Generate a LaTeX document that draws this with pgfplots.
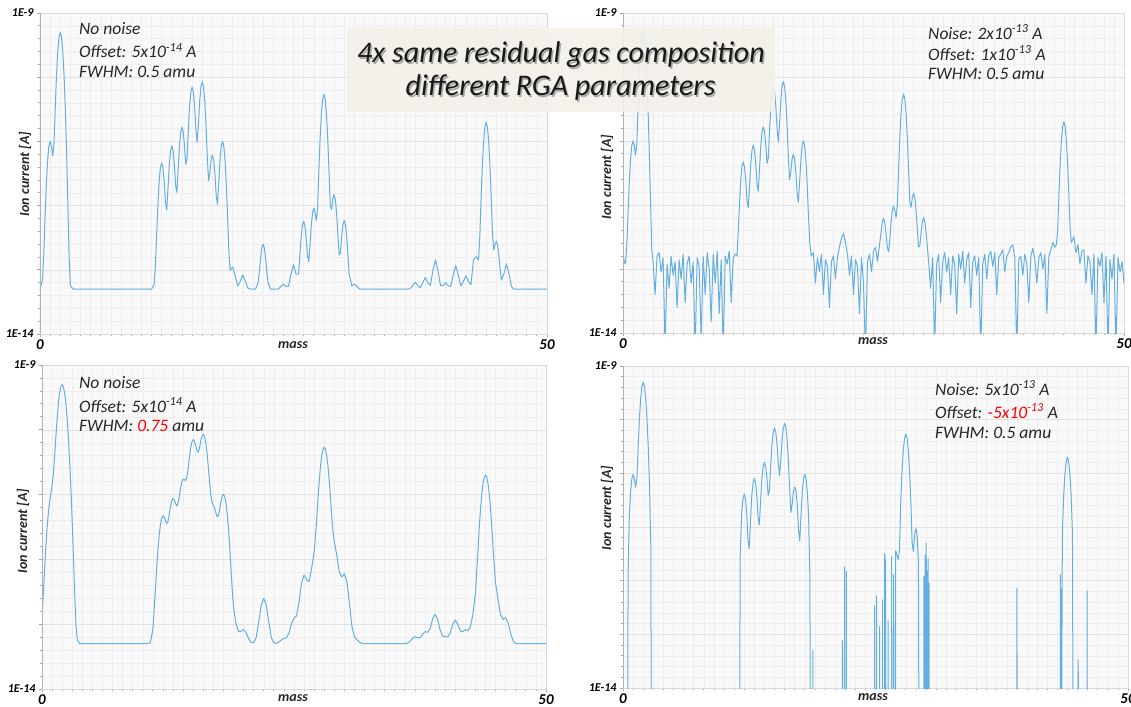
\documentclass[border=0pt]{standalone}
\usepackage{pgfplots}
\pgfplotsset{compat=1.18}
\usepackage{fontspec}
\setmainfont{Carlito}
\definecolor{curve}{RGB}{100,175,225}
\definecolor{gridmaj}{RGB}{226,226,226}
\definecolor{gridmin}{RGB}{238,238,238}
\definecolor{bgc}{RGB}{249,249,249}
\definecolor{boxc}{RGB}{243,241,232}
\newcommand\ytf{\fontsize{12}{12}\selectfont\bfseries\itshape}
\newcommand\xtf{\fontsize{15}{15}\selectfont\bfseries\itshape}
\newcommand\lbf{\fontsize{14}{14}\selectfont\bfseries\itshape}
\newcommand\txf{\fontsize{17.5}{17.5}\selectfont\itshape}
\pgfplotsset{
 rga/.style={
  scale only axis, anchor=south west,
  xmin=0, xmax=50,
  xtick={0,50}, xticklabels={0,50},
  minor xtick={1,2,...,49},
  grid=both,
  major grid style={gridmaj, line width=0.6pt},
  minor grid style={gridmin, line width=0.5pt},
  axis background/.style={fill=bgc},
  axis line style={draw=gray!30, line width=0.8pt},
  tick style={gray!70, line width=0.8pt},
  tick align=outside, tick pos=left,
  major tick length=3pt, minor tick length=2pt,
  xticklabel style={font=\xtf, yshift=1pt},
  yticklabel style={font=\ytf},
  every axis plot post/.append style={curve, line width=1pt, mark=none, line join=round},
 },
}
\newcommand\yaxisline{\draw[gray!60, line width=1.4pt] (rel axis cs:0,0) -- (rel axis cs:0,1);}
\begin{document}
\begin{tikzpicture}
\useasboundingbox (0pt,0pt) rectangle (1131pt,706pt);
% ---------------- panel 1 ----------------
\begin{axis}[rga, ymode=log, at={(40pt,372pt)}, width=507pt, height=321pt,
  ymin=1e-14, ymax=1e-9,
  ytick={1e-14,1e-13,1e-12,1e-11,1e-10,1e-9}, yticklabels={1E-14,,,,,1E-9},
  minor ytick={1.585e-14,2.512e-14,3.981e-14,6.31e-14,1.585e-13,2.512e-13,3.981e-13,6.31e-13,1.585e-12,2.512e-12,3.981e-12,6.31e-12,1.585e-11,2.512e-11,3.981e-11,6.31e-11,1.585e-10,2.512e-10,3.981e-10,6.31e-10}]
\addplot coordinates {(0,5.0e-14) (0.25,6.9e-14) (0.375,1.8e-13) (0.5,6.7e-13) (0.625,2.14e-12) (0.75,5.05e-12) (0.875,8.45e-12) (1,1.0e-11) (1.125,8.55e-12) (1.25,6.0e-12) (1.375,8.64e-12) (1.5,3.16e-11) (1.625,1.05e-10) (1.75,2.5e-10) (1.875,4.2e-10) (2,5.0e-10) (2.125,4.2e-10) (2.25,2.5e-10) (2.375,1.05e-10) (2.5,3.1e-11) (2.625,6.55e-12) (2.75,1.01e-12) (2.875,1.5e-13) (3,5.7e-14) (3.25,5.0e-14)
(11,5.0e-14) (11.25,5.9e-14) (11.375,1.1e-13) (11.5,3.35e-13) (11.625,1.01e-12) (11.75,2.35e-12) (11.875,3.91e-12) (12,4.65e-12) (12.125,3.91e-12) (12.25,2.37e-12) (12.375,1.12e-12) (12.5,8.6e-13) (12.625,1.89e-12) (12.75,4.31e-12) (12.875,7.19e-12) (13,8.55e-12) (13.125,7.19e-12) (13.25,4.33e-12) (13.375,2.05e-12) (13.5,1.6e-12) (13.625,3.63e-12) (13.75,8.37e-12) (13.875,1.4e-11) (14,1.66e-11) (14.125,1.4e-11) (14.25,8.5e-12) (14.375,4.43e-12) (14.5,5.4e-12) (14.625,1.48e-11) (14.75,3.5e-11) (14.875,5.88e-11) (15,7.0e-11) (15.125,5.88e-11) (15.25,3.52e-11) (15.375,1.57e-11) (15.5,9.66e-12) (15.625,1.87e-11) (15.75,4.26e-11) (15.875,7.14e-11) (16,8.5e-11) (16.125,7.14e-11) (16.25,4.25e-11) (16.375,1.79e-11) (16.5,5.7e-12) (16.625,2.42e-12) (16.75,3.26e-12) (16.875,5.19e-12) (17,6.15e-12) (17.125,5.17e-12) (17.25,3.12e-12) (17.375,1.45e-12) (17.5,1.05e-12) (17.625,2.22e-12) (17.75,5.06e-12) (17.875,8.45e-12) (18,1.005e-11) (18.125,8.45e-12) (18.25,5.05e-12) (18.375,2.14e-12) (18.5,6.74e-13) (18.625,1.93e-13) (18.75,9.9e-14) (19,1.1e-13) (19.25,8.0e-14) (19.5,5.6e-14) (19.75,6.65e-14) (20,8.3e-14) (20.25,6.65e-14) (20.5,5.2e-14) (20.75,5.0e-14)
(21.25,5.0e-14) (21.5,6.24e-14) (21.625,9.2e-14) (21.75,1.5e-13) (21.875,2.18e-13) (22,2.5e-13) (22.125,2.18e-13) (22.25,1.5e-13) (22.375,9.2e-14) (22.5,6.24e-14) (22.75,5.0e-14)
(23.5,5.0e-14) (23.75,5.5e-14) (24,6.0e-14) (24.25,5.5e-14) (24.5,5.5e-14) (24.75,8.6e-14) (25,1.2e-13) (25.25,8.6e-14) (25.5,8.6e-14) (25.75,3.12e-13) (25.875,4.87e-13) (26,5.7e-13) (26.125,4.87e-13) (26.25,3.12e-13) (26.375,1.7e-13) (26.5,1.35e-13) (26.625,2.37e-13) (26.75,4.81e-13) (26.875,7.72e-13) (27,9.1e-13) (27.125,7.83e-13) (27.25,5.84e-13) (27.375,9.3e-13) (27.5,3.45e-12) (27.625,1.13e-11) (27.75,2.7e-11) (27.875,4.54e-11) (28,5.4e-11) (28.125,4.54e-11) (28.25,2.7e-11) (28.375,1.13e-11) (28.5,3.49e-12) (28.625,1.05e-12) (28.75,8.7e-13) (28.875,1.26e-12) (29,1.48e-12) (29.125,1.25e-12) (29.25,7.66e-13) (29.375,3.57e-13) (29.5,1.72e-13) (29.625,1.82e-13) (29.75,3.23e-13) (29.875,5.04e-13) (30,5.9e-13) (30.125,5.04e-13) (30.25,3.2e-13) (30.5,8.4e-14) (30.75,5.6e-14) (31,6.0e-14) (31.25,5.5e-14) (31.5,5.0e-14)
(36.25,5.0e-14) (36.5,5.1e-14) (36.75,5.7e-14) (37,6.4e-14) (37.25,5.7e-14) (37.5,5.25e-14) (37.75,6.3e-14) (38,7.6e-14) (38.25,6.3e-14) (38.5,5.74e-14) (38.75,9.7e-14) (39,1.43e-13) (39.25,9.7e-14) (39.5,5.66e-14) (39.75,5.65e-14) (40,6.3e-14) (40.25,5.66e-14) (40.5,5.5e-14) (40.75,8.3e-14) (41,1.16e-13) (41.25,8.3e-14) (41.5,5.6e-14) (41.75,6.57e-14) (42,8.1e-14) (42.25,6.57e-14) (42.5,5.87e-14) (42.75,1.43e-13) (43,1.6e-13) (43.25,1.43e-13) (43.375,3.33e-13) (43.5,1.3e-12) (43.625,4.23e-12) (43.75,1.0e-11) (43.875,1.68e-11) (44,2.0e-11) (44.125,1.68e-11) (44.25,1.0e-11) (44.375,4.23e-12) (44.5,1.3e-12) (44.625,3.58e-13) (44.75,2.03e-13) (44.875,2.47e-13) (45,2.8e-13) (45.125,2.43e-13) (45.25,1.65e-13) (45.5,6.9e-14) (45.75,8.7e-14) (46,1.24e-13) (46.25,8.7e-14) (46.5,5.46e-14) (46.75,5.0e-14) (50,5.0e-14)};
\yaxisline
\end{axis}
% ---------------- panel 2 ----------------
\begin{axis}[rga, ymode=log, at={(623pt,373pt)}, width=501pt, height=320pt,
  ymin=1e-14, ymax=1e-9,
  ytick={1e-14,1e-13,1e-12,1e-11,1e-10,1e-9}, yticklabels={1E-14,,,,,1E-9},
  minor ytick={1.585e-14,2.512e-14,3.981e-14,6.31e-14,1.585e-13,2.512e-13,3.981e-13,6.31e-13,1.585e-12,2.512e-12,3.981e-12,6.31e-12,1.585e-11,2.512e-11,3.981e-11,6.31e-11,1.585e-10,2.512e-10,3.981e-10,6.31e-10}]
\addplot coordinates {(0,1.8e-13) (0.12,1.3e-13) (0.25,1.2e-13) (0.375,2.3e-13) (0.5,7.2e-13) (0.625,2.19e-12) (0.75,5.1e-12) (0.875,8.5e-12) (1,1.0e-11) (1.125,8.6e-12) (1.25,6.0e-12) (1.375,8.7e-12) (1.5,3.2e-11) (1.625,1.05e-10) (1.75,2.5e-10) (1.875,4.2e-10) (2,5.0e-10) (2.125,4.2e-10) (2.25,2.5e-10) (2.375,1.05e-10) (2.5,3.1e-11) (2.625,6.6e-12) (2.75,1.06e-12) (2.875,2.0e-13) (3,1.3e-13) (3.2,4e-14) (3.4,1.6e-13) (3.6,1.8e-13) (3.8,9e-14) (4,1.5e-13) (4.2,6e-15) (4.4,1.2e-13) (4.6,5e-14) (4.8,1.6e-13) (5,8e-14) (5.2,1.3e-13) (5.4,2.5e-14) (5.6,1.4e-13) (5.8,7e-14) (6,1.7e-13) (6.2,3e-14) (6.4,1.2e-13) (6.6,1.6e-13) (6.8,6e-14) (7,1.3e-13) (7.2,5e-15) (7.4,1.5e-13) (7.6,1.1e-13) (7.8,8e-15) (8,1.6e-13) (8.2,4e-14) (8.4,1.8e-13) (8.6,1.0e-13) (8.8,1.5e-14) (9,1.7e-13) (9.2,6e-14) (9.4,1.9e-13) (9.6,2e-14) (9.8,1.4e-13) (10,5e-15) (10.2,1.6e-13) (10.4,1.2e-13) (10.6,1.9e-13) (10.8,3e-14) (11,1.5e-13) (11.2,1.7e-13) (11.375,1.6e-13) (11.5,3.9e-13) (11.625,1.06e-12) (11.75,2.4e-12) (11.875,3.96e-12) (12,4.7e-12) (12.125,3.96e-12) (12.25,2.4e-12) (12.375,1.17e-12) (12.5,9.1e-13) (12.625,1.94e-12) (12.75,4.36e-12) (12.875,7.24e-12) (13,8.6e-12) (13.125,7.24e-12) (13.25,4.38e-12) (13.375,2.1e-12) (13.5,1.65e-12) (13.625,3.68e-12) (13.75,8.4e-12) (13.875,1.4e-11) (14,1.66e-11) (14.125,1.4e-11) (14.25,8.55e-12) (14.375,4.48e-12) (14.5,5.45e-12) (14.625,1.48e-11) (14.75,3.5e-11) (14.875,5.88e-11) (15,7.0e-11) (15.125,5.88e-11) (15.25,3.52e-11) (15.375,1.57e-11) (15.5,9.7e-12) (15.625,1.87e-11) (15.75,4.26e-11) (15.875,7.14e-11) (16,8.5e-11) (16.125,7.14e-11) (16.25,4.25e-11) (16.375,1.79e-11) (16.5,5.75e-12) (16.625,2.47e-12) (16.75,3.31e-12) (16.875,5.24e-12) (17,6.2e-12) (17.125,5.22e-12) (17.25,3.17e-12) (17.375,1.5e-12) (17.5,1.1e-12) (17.625,2.27e-12) (17.75,5.1e-12) (17.875,8.5e-12) (18,1.01e-11) (18.125,8.5e-12) (18.25,5.1e-12) (18.375,2.19e-12) (18.5,7.2e-13) (18.65,2.4e-13) (18.8,1.6e-13) (19,1.8e-13) (19.2,6e-14) (19.4,1.5e-13) (19.6,9e-14) (19.8,1.7e-13) (20,4e-14) (20.2,1.4e-13) (20.4,1.1e-13) (20.6,2.5e-14) (20.8,1.3e-13) (21,1.6e-13) (21.2,7e-14) (21.4,1.5e-13) (21.6,2.2e-13) (21.8,3.0e-13) (22,3.6e-13) (22.2,2.6e-13) (22.4,1.7e-13) (22.6,8e-14) (22.8,1.6e-13) (23,4e-14) (23.2,1.4e-13) (23.4,1.1e-13) (23.6,2e-14) (23.8,1.5e-13) (24,6e-14) (24.2,5e-15) (24.4,1.3e-13) (24.6,1.7e-13) (24.8,9e-14) (25,1.9e-13) (25.2,2.2e-13) (25.4,1.3e-13) (25.6,2.4e-13) (25.75,3.6e-13) (25.875,5.4e-13) (26,6.2e-13) (26.125,5.4e-13) (26.25,3.6e-13) (26.375,2.2e-13) (26.5,1.85e-13) (26.625,2.9e-13) (26.75,5.3e-13) (26.875,8.2e-13) (27,9.6e-13) (27.125,8.3e-13) (27.25,6.3e-13) (27.375,9.8e-13) (27.5,3.5e-12) (27.625,1.14e-11) (27.75,2.7e-11) (27.875,4.54e-11) (28,5.4e-11) (28.125,4.54e-11) (28.25,2.7e-11) (28.375,1.14e-11) (28.5,3.54e-12) (28.625,1.1e-12) (28.75,9.2e-13) (28.875,1.31e-12) (29,1.53e-12) (29.125,1.3e-12) (29.25,8.2e-13) (29.375,4.1e-13) (29.5,2.2e-13) (29.625,2.3e-13) (29.75,3.7e-13) (29.875,5.5e-13) (30,6.4e-13) (30.125,5.5e-13) (30.25,3.7e-13) (30.5,1.3e-13) (30.7,5e-14) (30.9,1.5e-13) (31.1,6e-15) (31.3,1.2e-13) (31.5,1.7e-13) (31.7,3e-14) (31.9,1.3e-13) (32.1,1.8e-13) (32.3,9e-14) (32.5,1.5e-13) (32.7,4e-14) (32.9,1.6e-13) (33.1,1.2e-13) (33.3,2e-14) (33.5,1.7e-13) (33.7,1.0e-13) (33.9,1.9e-13) (34.1,6e-14) (34.3,1.4e-13) (34.5,1.8e-13) (34.7,2.5e-14) (34.9,1.3e-13) (35.1,1.6e-13) (35.3,8e-14) (35.5,1.5e-13) (35.7,5e-15) (35.9,1.2e-13) (36.1,1.7e-13) (36.3,7e-14) (36.5,1.6e-13) (36.7,1.9e-13) (36.9,1.1e-13) (37.1,1.8e-13) (37.3,4e-14) (37.5,1.5e-13) (37.7,1.7e-13) (37.9,2.0e-13) (38.1,9e-14) (38.3,1.6e-13) (38.5,1.8e-13) (38.7,2.2e-13) (38.9,2.4e-13) (39.1,1.5e-13) (39.3,5e-15) (39.5,1.4e-13) (39.7,1.6e-13) (39.9,8e-14) (40.1,1.7e-13) (40.3,1.2e-13) (40.5,3e-14) (40.7,1.6e-13) (40.9,2.1e-13) (41.1,1.4e-13) (41.3,6e-14) (41.5,1.5e-13) (41.7,1.8e-13) (41.9,1.0e-13) (42.1,1.7e-13) (42.3,2e-14) (42.5,1.6e-13) (42.7,2.0e-13) (42.9,2.6e-13) (43.1,2.2e-13) (43.25,2.4e-13) (43.375,3.9e-13) (43.5,1.4e-12) (43.625,4.3e-12) (43.75,1.0e-11) (43.875,1.68e-11) (44,2.0e-11) (44.125,1.68e-11) (44.25,1.0e-11) (44.375,4.3e-12) (44.5,1.4e-12) (44.625,4.1e-13) (44.75,2.6e-13) (45,3.2e-13) (45.2,1.8e-13) (45.4,2.4e-13) (45.6,1.2e-13) (45.8,1.9e-13) (46,2.0e-13) (46.2,6e-14) (46.4,1.6e-13) (46.6,1.3e-13) (46.8,4e-14) (47,1.7e-13) (47.2,5e-15) (47.4,1.5e-13) (47.6,1.1e-13) (47.8,1.8e-13) (48,3e-14) (48.2,1.6e-13) (48.4,5e-15) (48.6,1.4e-13) (48.8,7e-14) (49,1.7e-13) (49.2,5e-15) (49.4,1.5e-13) (49.6,9e-14) (49.8,1.3e-13) (50,6e-14)};
\yaxisline
\end{axis}
% ---------------- panel 3 ----------------
\begin{axis}[rga, ymode=log, at={(42pt,17pt)}, width=504pt, height=324pt,
  ymin=1e-14, ymax=1e-9,
  ytick={1e-14,1e-13,1e-12,1e-11,1e-10,1e-9}, yticklabels={1E-14,,,,,1E-9},
  minor ytick={1.585e-14,2.512e-14,3.981e-14,6.31e-14,1.585e-13,2.512e-13,3.981e-13,6.31e-13,1.585e-12,2.512e-12,3.981e-12,6.31e-12,1.585e-11,2.512e-11,3.981e-11,6.31e-11,1.585e-10,2.512e-10,3.981e-10,6.31e-10}]
\addplot coordinates {(0,1.22e-13) (0.125,2.8e-13) (0.25,6.75e-13) (0.375,1.51e-12) (0.5,2.98e-12) (0.625,5.1e-12) (0.75,7.63e-12) (0.875,1.03e-11) (1,1.37e-11) (1.125,2.08e-11) (1.25,3.87e-11) (1.375,7.8e-11) (1.5,1.49e-10) (1.625,2.51e-10) (1.75,3.68e-10) (1.875,4.63e-10) (2,5.0e-10) (2.125,4.63e-10) (2.25,3.68e-10) (2.375,2.5e-10) (2.5,1.46e-10) (2.625,7.3e-11) (2.75,3.13e-11) (2.875,1.15e-11) (3,3.67e-12) (3.125,1.03e-12) (3.25,2.75e-13) (3.375,9.5e-14) (3.5,5.75e-14) (3.75,5.0e-14)
(10.5,5.0e-14) (10.75,5.2e-14) (11,8.3e-14) (11.25,3.38e-13) (11.375,7.2e-13) (11.5,1.39e-12) (11.625,2.35e-12) (11.75,3.44e-12) (11.875,4.33e-12) (12,4.71e-12) (12.125,4.51e-12) (12.25,3.96e-12) (12.375,3.59e-12) (12.5,3.87e-12) (12.625,4.97e-12) (12.75,6.6e-12) (12.875,8.06e-12) (13,8.7e-12) (13.125,8.31e-12) (13.25,7.34e-12) (13.375,6.72e-12) (13.5,7.38e-12) (13.625,9.6e-12) (13.75,1.28e-11) (13.875,1.57e-11) (14,1.72e-11) (14.125,1.7e-11) (14.25,1.66e-11) (14.375,1.85e-11) (14.5,2.53e-11) (14.625,3.74e-11) (14.75,5.25e-11) (14.875,6.54e-11) (15,7.07e-11) (15.125,6.68e-11) (15.25,5.68e-11) (15.375,4.74e-11) (15.5,4.53e-11) (15.625,5.27e-11) (15.75,6.69e-11) (15.875,8.03e-11) (16,8.56e-11) (16.125,7.9e-11) (16.25,6.29e-11) (16.375,4.34e-11) (16.5,2.66e-11) (16.625,1.55e-11) (16.75,9.85e-12) (16.875,7.68e-12) (17,6.84e-12) (17.125,6.1e-12) (17.25,5.19e-12) (17.375,4.57e-12) (17.5,4.75e-12) (17.625,5.94e-12) (17.75,7.78e-12) (17.875,9.45e-12) (18,1.01e-11) (18.125,9.33e-12) (18.25,7.4e-12) (18.375,5.06e-12) (18.5,2.99e-12) (18.625,1.54e-12) (18.75,7.2e-13) (18.875,3.36e-13) (19,1.83e-13) (19.25,1.0e-13) (19.5,7.7e-14) (19.75,7.8e-14) (20,8.3e-14) (20.25,7.4e-14) (20.5,6.0e-14) (20.75,5.2e-14) (21,5.2e-14) (21.25,6.25e-14) (21.5,1.08e-13) (21.75,1.97e-13) (22,2.5e-13) (22.25,1.97e-13) (22.5,1.08e-13) (22.75,6.25e-14) (23,5.15e-14) (23.25,5.07e-14) (23.5,5.3e-14) (23.75,5.74e-14) (24,6.05e-14) (24.25,6.18e-14) (24.5,7.3e-14) (24.75,1.02e-13) (25,1.24e-13) (25.25,1.34e-13) (25.5,2.22e-13) (25.75,4.37e-13) (26,5.77e-13) (26.25,4.86e-13) (26.5,4.54e-13) (26.75,7.39e-13) (27,1.3e-12) (27.25,4.06e-12) (27.375,8.36e-12) (27.5,1.6e-11) (27.625,2.71e-11) (27.75,3.98e-11) (27.875,5.0e-11) (28,5.4e-11) (28.125,5.0e-11) (28.25,3.98e-11) (28.375,2.72e-11) (28.5,1.62e-11) (28.625,8.65e-12) (28.75,4.48e-12) (28.875,2.61e-12) (29,1.87e-12) (29.25,1.16e-12) (29.5,6.27e-13) (29.75,5.36e-13) (30,6.0e-13) (30.25,4.48e-13) (30.5,2.11e-13) (30.75,9.1e-14) (31,6.4e-14) (31.25,5.76e-14) (31.5,5.3e-14) (31.75,5.06e-14) (32,5.0e-14)
(36,5.0e-14) (36.25,5.09e-14) (36.5,5.41e-14) (36.75,6.03e-14) (37,6.42e-14) (37.25,6.19e-14) (37.5,6.17e-14) (37.75,7.0e-14) (38,7.68e-14) (38.25,7.49e-14) (38.5,8.48e-14) (38.75,1.2e-13) (39,1.43e-13) (39.25,1.19e-13) (39.5,8.1e-14) (39.75,6.54e-14) (40,6.42e-14) (40.25,6.37e-14) (40.5,7.31e-14) (40.75,9.93e-14) (41,1.16e-13) (41.25,1.0e-13) (41.5,7.83e-14) (41.75,7.7e-14) (42,8.23e-14) (42.25,7.97e-14) (42.5,9.15e-14) (42.75,1.42e-13) (43,3.05e-13) (43.25,1.38e-12) (43.375,3.03e-12) (43.5,5.92e-12) (43.625,1.0e-11) (43.75,1.47e-11) (43.875,1.85e-11) (44,2.0e-11) (44.125,1.85e-11) (44.25,1.47e-11) (44.375,1.0e-11) (44.5,5.96e-12) (44.625,3.09e-12) (44.75,1.47e-12) (45,4.26e-13) (45.25,2.33e-13) (45.5,1.39e-13) (45.75,1.19e-13) (46,1.26e-13) (46.25,1.04e-13) (46.5,7.16e-14) (46.75,5.46e-14) (47,5.05e-14) (47.25,5.0e-14) (50,5.0e-14)};
\yaxisline
\end{axis}
% ---------------- panel 4 ----------------
\begin{axis}[rga, ymode=log, at={(623pt,18pt)}, width=505pt, height=322pt,
  ymin=1e-15, ymax=1e-9,
  ytick={1e-15,1e-14,1e-13,1e-12,1e-11,1e-10,1e-9}, yticklabels={1E-14,,,,,,1E-9},
  minor ytick={1.585e-15,2.512e-15,3.981e-15,6.31e-15,1.585e-14,2.512e-14,3.981e-14,6.31e-14,1.585e-13,2.512e-13,3.981e-13,6.31e-13,1.585e-12,2.512e-12,3.981e-12,6.31e-12,1.585e-11,2.512e-11,3.981e-11,6.31e-11,1.585e-10,2.512e-10,3.981e-10,6.31e-10}]
\addplot coordinates {(0,1e-16) (0.47,1e-16) (0.5,1.2e-13) (0.625,1.59e-12) (0.75,4.5e-12) (0.875,7.9e-12) (1,9.5e-12) (1.125,8.0e-12) (1.25,5.5e-12) (1.375,8.1e-12) (1.5,3.1e-11) (1.625,1.05e-10) (1.75,2.5e-10) (1.875,4.2e-10) (2,5.0e-10) (2.125,4.2e-10) (2.25,2.5e-10) (2.375,1.05e-10) (2.5,3.05e-11) (2.625,6.0e-12) (2.75,4.6e-13) (2.8,1e-16)
(11.55,1e-16) (11.6,2.8e-13) (11.75,1.8e-12) (11.875,3.36e-12) (12,4.1e-12) (12.125,3.36e-12) (12.25,1.8e-12) (12.375,5.7e-13) (12.5,4e-13) (12.625,1.34e-12) (12.75,3.8e-12) (12.875,6.64e-12) (13,8.0e-12) (13.125,6.64e-12) (13.25,3.8e-12) (13.375,1.5e-12) (13.5,1.1e-12) (13.625,3.08e-12) (13.75,7.8e-12) (13.875,1.34e-11) (14,1.6e-11) (14.125,1.34e-11) (14.25,7.9e-12) (14.375,3.88e-12) (14.5,4.9e-12) (14.625,1.43e-11) (14.75,3.45e-11) (14.875,5.83e-11) (15,7.0e-11) (15.125,5.83e-11) (15.25,3.47e-11) (15.375,1.52e-11) (15.5,9.1e-12) (15.625,1.82e-11) (15.75,4.2e-11) (15.875,7.09e-11) (16,8.5e-11) (16.125,7.09e-11) (16.25,4.2e-11) (16.375,1.74e-11) (16.5,5.1e-12) (16.625,1.87e-12) (16.75,2.7e-12) (16.875,4.64e-12) (17,5.6e-12) (17.125,4.62e-12) (17.25,2.6e-12) (17.375,9e-13) (17.5,5.5e-13) (17.625,1.67e-12) (17.75,4.5e-12) (17.875,7.9e-12) (18,9.5e-12) (18.125,7.9e-12) (18.25,4.5e-12) (18.375,1.59e-12) (18.5,1.2e-13) (18.55,1e-16)
(18.8,1e-16) (18.8,5e-15) (18.82,1e-16)
(21.73,1e-16) (21.73,7.6e-15) (21.75,1e-16) (21.94,1e-16) (21.94,1.8e-13) (21.96,1e-16) (22.11,1e-16) (22.11,1.5e-13) (22.13,1e-16)
(24.9,1e-16) (24.9,3.4e-14) (24.92,1e-16) (25.1,1e-16) (25.1,5.2e-14) (25.12,1e-16) (25.4,1e-16) (25.4,1.4e-14) (25.42,1e-16) (25.7,1e-16) (25.7,4.4e-14) (25.72,1e-16) (25.9,1e-16) (25.9,3.2e-13) (25.95,2.6e-13) (26.0,1.9e-13) (26.02,1e-16) (26.25,1e-16) (26.25,1.8e-14) (26.27,1e-16) (26.6,1e-16) (26.6,2.8e-13) (26.62,1e-16) (26.8,1e-16) (26.8,1.3e-13) (26.82,1e-16)
(26.98,1e-16) (27,3.6e-13) (27.25,2.5e-13) (27.375,3.8e-13) (27.5,2.9e-12) (27.625,1.08e-11) (27.75,2.65e-11) (27.875,4.49e-11) (28,5.4e-11) (28.125,4.49e-11) (28.25,2.65e-11) (28.375,1.08e-11) (28.5,2.94e-12) (28.625,5e-13) (28.75,3.5e-13) (28.875,7.1e-13) (29,9.3e-13) (29.125,7e-13) (29.25,2.2e-13) (29.3,1e-16)
(29.8,1e-16) (29.8,1.2e-13) (29.82,1e-16) (29.9,1e-16) (29.9,3e-13) (29.92,1e-16) (30.0,1e-16) (30.0,5e-13) (30.03,2e-13) (30.05,1e-16) (30.1,1e-16) (30.1,1.5e-13) (30.12,1e-16) (30.2,1e-16) (30.2,2.6e-13) (30.22,1e-16) (30.3,1e-16) (30.3,9e-14) (30.32,1e-16)
(39.0,1e-16) (39.0,7.2e-14) (39.02,1e-16)
(43.3,1e-16) (43.3,1.3e-13) (43.32,1e-16) (43.36,1e-16) (43.36,7e-14) (43.38,1e-16)
(43.42,1e-16) (43.5,7.5e-13) (43.625,3.68e-12) (43.75,9.5e-12) (43.875,1.63e-11) (44,2.0e-11) (44.125,1.63e-11) (44.25,9.5e-12) (44.375,3.68e-12) (44.5,7.5e-13) (44.56,1e-16)
(45.07,1e-16) (45.07,3.3e-15) (45.09,1e-16) (45.95,1e-16) (45.95,6.5e-14) (45.97,1e-16) (50,1e-16)};
\yaxisline
\end{axis}
% ---------------- axis labels ----------------
\begin{scope}[every node/.style={font=\lbf, text=black!85}]
\node at (293pt,361pt) {mass};
\node at (873pt,365pt) {mass};
\node at (293pt,8pt) {mass};
\node at (873pt,9pt) {mass};
\node[rotate=90] at (25pt,532pt) {Ion current [A]};
\node[rotate=90] at (607pt,529pt) {Ion current [A]};
\node[rotate=90] at (23pt,175pt) {Ion current [A]};
\node[rotate=90] at (607pt,198pt) {Ion current [A]};
\end{scope}
% ---------------- annotations ----------------
\begin{scope}[every node/.style={font=\txf, text=black!85, anchor=west, inner sep=0pt}]
\node at (79pt,677pt) {No noise};
\node at (79pt,655pt) {Offset: 5x10\textsuperscript{-14} A};
\node at (79pt,634pt) {FWHM: 0.5 amu};
\node at (928pt,674pt) {Noise: 2x10\textsuperscript{-13} A};
\node at (928pt,653pt) {Offset: 1x10\textsuperscript{-13} A};
\node at (928pt,632pt) {FWHM: 0.5 amu};
\node at (79pt,323pt) {No noise};
\node at (79pt,301pt) {Offset: 5x10\textsuperscript{-14} A};
\node at (79pt,280pt) {FWHM: \textcolor{red}{0.75} amu};
\node at (935pt,318pt) {Noise: 5x10\textsuperscript{-13} A};
\node at (935pt,295pt) {Offset: \textcolor{red}{-5x10\textsuperscript{-13}} A};
\node at (935pt,273pt) {FWHM: 0.5 amu};
\end{scope}
% ---------------- title box ----------------
\fill[boxc, fill opacity=0.9] (347pt,594pt) rectangle (775pt,678pt);
\begin{scope}[every node/.style={font=\fontsize{30}{30}\selectfont\itshape, inner sep=0pt}]
\node[text=black!35] at (562.5pt,649.5pt) {4x same residual gas composition};
\node[text=black!35] at (562pt,616.5pt) {different RGA parameters};
\node[text=black!90] at (561pt,651pt) {4x same residual gas composition};
\node[text=black!90] at (560.5pt,618pt) {different RGA parameters};
\end{scope}
\end{tikzpicture}
\end{document}
